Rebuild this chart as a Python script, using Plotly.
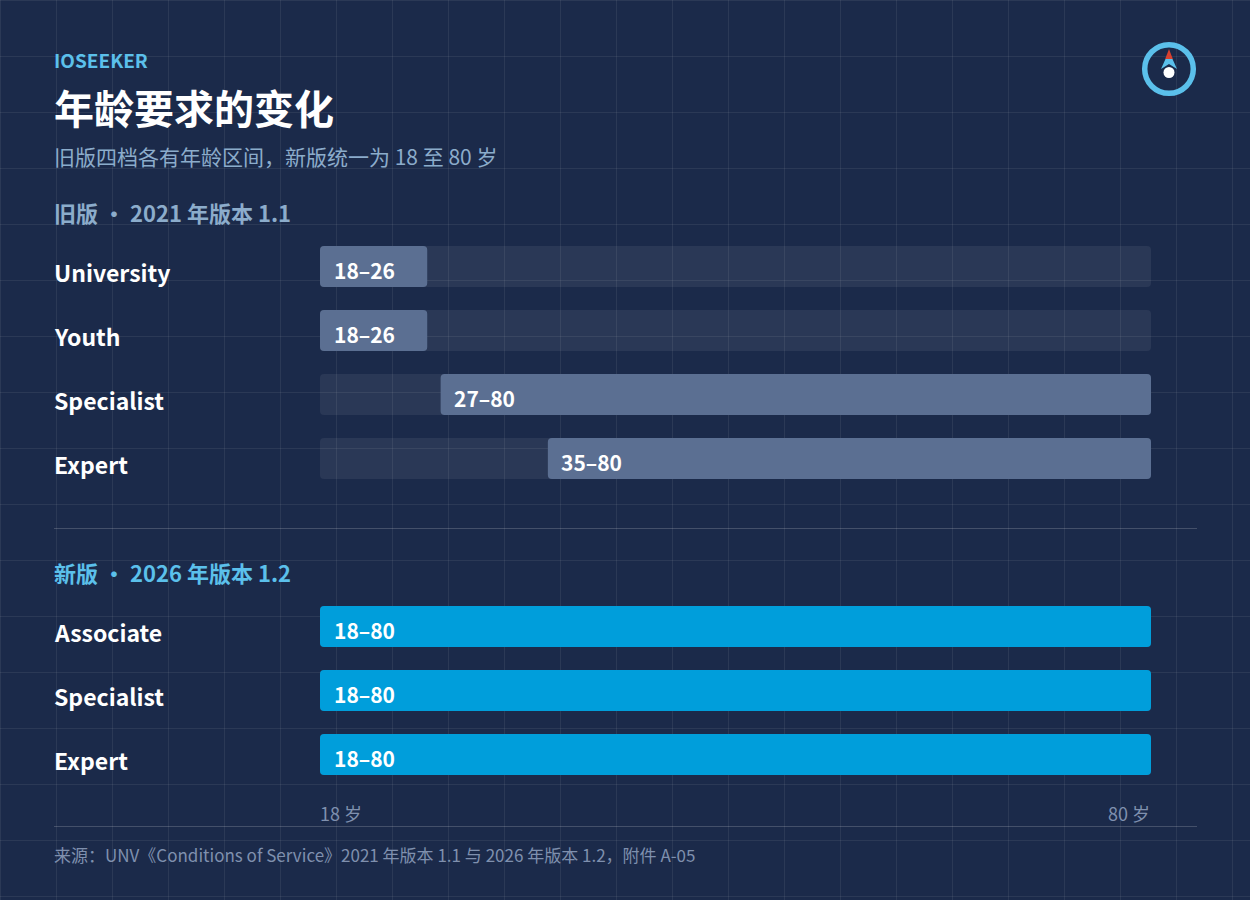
from plotly import graph_objects as go

WIDTH = 1250
HEIGHT = 900
FONT = "Noto Sans CJK SC"

AGE_MIN = 18
AGE_MAX = 80

old_roles = ["University", "Youth", "Specialist", "Expert"]
old_low = [18, 18, 27, 35]
old_high = [26, 26, 80, 80]

new_roles = ["Associate", "Specialist", "Expert"]
new_low = [18, 18, 18]
new_high = [80, 80, 80]

BG = "#1B2A4A"
GRID = "rgba(255,255,255,0.07)"
TRACK = "rgba(255,255,255,0.065)"
OLD_BAR = "#5B6F92"
NEW_BAR = "#009EDB"
SKY = "#5BC0EB"
MUTED = "#8CACCB"
FOOT = "#7F90AE"


def px(x):
    return x / WIDTH


def py(y):
    return 1 - y / HEIGHT


def text(x, y, s, size, color, bold=False, anchor="left"):
    return dict(
        x=px(x), y=py(y), xref="paper", yref="paper",
        text=f"<b>{s}</b>" if bold else s,
        showarrow=False, xanchor=anchor, yanchor="middle", borderpad=0, borderwidth=0,
        font=dict(family=FONT, size=size, color=color),
    )


def range_traces(roles, low, high, color, xaxis, yaxis):
    spans = [h - l for l, h in zip(low, high)]
    track = go.Bar(
        y=roles, x=[AGE_MAX - AGE_MIN] * len(roles), base=AGE_MIN, orientation="h",
        marker=dict(color=TRACK, line_width=0), xaxis=xaxis, yaxis=yaxis,
        showlegend=False, hoverinfo="skip",
    )
    bar = go.Bar(
        y=roles, x=spans, base=low, orientation="h",
        marker=dict(color=color, line_width=0), xaxis=xaxis, yaxis=yaxis,
        showlegend=False,
    )
    return [track, bar]


def range_labels(roles, low, high, xref, yref):
    out = []
    for role, l, h in zip(roles, low, high):
        # role name down the left edge
        out.append(dict(
            x=px(54), y=role, xref="paper", yref=yref, xshift=-1, yshift=-5, borderpad=0,
            text=f"<b>{role}</b>", showarrow=False, xanchor="left", yanchor="middle",
            font=dict(family=FONT, size=23, color="white"),
        ))
        out.append(dict(
            x=l, y=role, xref=xref, yref=yref, xshift=12.5, yshift=-3, borderpad=0,
            text=f"<b>{l}–{h}</b>", showarrow=False, xanchor="left", yanchor="middle",
            font=dict(family=FONT, size=21, color="white"),
        ))
    return out


fig = go.Figure(
    data=range_traces(old_roles, old_low, old_high, OLD_BAR, "x", "y")
    + range_traces(new_roles, new_low, new_high, NEW_BAR, "x2", "y2")
)

# background grid, every 56 px
shapes = []
for gx in range(0, WIDTH + 1, 56):
    shapes.append(dict(type="line", xref="paper", yref="paper", x0=px(gx + 0.5), x1=px(gx + 0.5), y0=0, y1=1,
                       line=dict(color=GRID, width=1), layer="below"))
for gy in range(0, HEIGHT + 1, 56):
    shapes.append(dict(type="line", xref="paper", yref="paper", x0=0, x1=1, y0=py(gy + 0.5), y1=py(gy + 0.5),
                       line=dict(color=GRID, width=1), layer="below"))

# dividers
for dy in (528, 826):
    shapes.append(dict(type="line", xref="paper", yref="paper", x0=px(54), x1=px(1197), y0=py(dy + 0.5), y1=py(dy + 0.5),
                       line=dict(color="rgba(255,255,255,0.18)", width=1), layer="below"))


def path(points):
    return "M " + " L ".join(f"{px(x)},{py(y)}" for x, y in points) + " Z"


# compass badge, top right
shapes += [
    dict(type="circle", xref="paper", yref="paper", x0=px(1144.7), x1=px(1193.3), y0=py(93.3), y1=py(44.7),
         line=dict(color=SKY, width=5.5), fillcolor="rgba(0,0,0,0)"),
    dict(type="path", xref="paper", yref="paper", path=path([(1165.5, 59), (1172.5, 59), (1177, 69), (1169, 64), (1161, 69)]),
         fillcolor=SKY, line_width=0),
    dict(type="path", xref="paper", yref="paper", path=path([(1169, 49), (1172.8, 59), (1165.2, 59)]),
         fillcolor="#D9412F", line_width=0),
    dict(type="circle", xref="paper", yref="paper", x0=px(1163.5), x1=px(1174.5), y0=py(78), y1=py(67),
         fillcolor="white", line_width=0),
]

annotations = [
    text(54, 59, "IOSEEKER", 19, SKY, bold=True),
    text(54, 107, "年龄要求的变化", 40, "white", bold=True),
    text(54, 156, "旧版四档各有年龄区间，新版统一为 18 至 80 岁", 21, MUTED),
    text(54, 211.5, "旧版 ・ 2021 年版本 1.1", 22, MUTED, bold=True),
    text(54, 571.5, "新版 ・ 2026 年版本 1.2", 22, SKY, bold=True),
    text(54, 854, "来源：UNV《Conditions of Service》2021 年版本 1.1 与 2026 年版本 1.2，附件 A-05", 17, FOOT),
    dict(x=AGE_MIN, y=py(812.5), xref="x2", yref="paper", xshift=-1, text=f"{AGE_MIN} 岁", showarrow=False, borderpad=0,
         xanchor="left", yanchor="middle", font=dict(family=FONT, size=18, color=FOOT)),
    dict(x=AGE_MAX, y=py(812.5), xref="x2", yref="paper", text=f"{AGE_MAX} 岁", showarrow=False, borderpad=0,
         xanchor="right", yanchor="middle", font=dict(family=FONT, size=18, color=FOOT)),
]
annotations += range_labels(old_roles, old_low, old_high, "x", "y")
annotations += range_labels(new_roles, new_low, new_high, "x2", "y2")

hidden = dict(visible=False, fixedrange=True)
x_domain = [px(320), px(1151)]

fig.update_layout(
    width=WIDTH,
    height=HEIGHT,
    margin=dict(l=0, r=0, t=0, b=0),
    paper_bgcolor=BG,
    plot_bgcolor="rgba(0,0,0,0)",
    barmode="overlay",
    bargap=23 / 64,
    barcornerradius=4,
    showlegend=False,
    font=dict(family=FONT),
    xaxis=dict(domain=x_domain, range=[AGE_MIN, AGE_MAX], anchor="y", **hidden),
    xaxis2=dict(domain=x_domain, range=[AGE_MIN, AGE_MAX], anchor="y2", **hidden),
    yaxis=dict(domain=[py(490.5), py(234.5)], range=[3.5, -0.5], type="category", anchor="x", **hidden),
    yaxis2=dict(domain=[py(786.5), py(594.5)], range=[2.5, -0.5], type="category", anchor="x2", **hidden),
    shapes=shapes,
    annotations=annotations,
)

# page margin would otherwise push the chart 8 px in
fig.write_html(
    "out.html",
    config={"displayModeBar": False},
    post_script="document.body.style.margin='0';",
)
